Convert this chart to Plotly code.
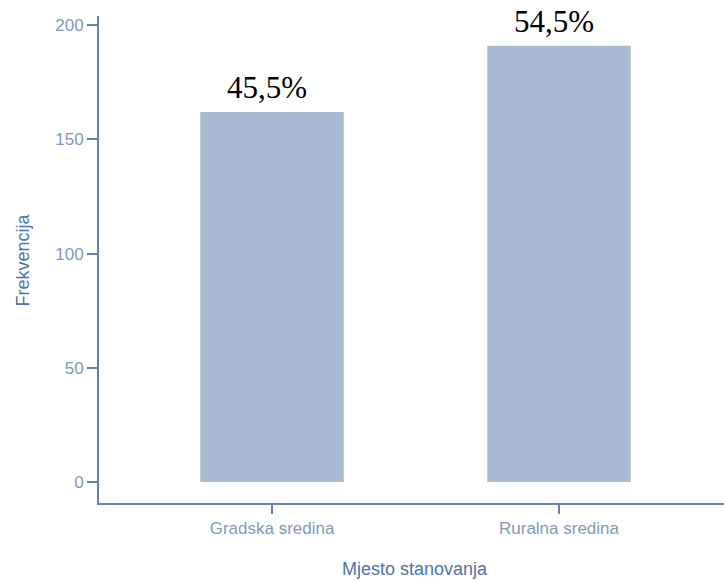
import plotly.graph_objects as go

categories = ["Gradska sredina", "Ruralna sredina"]
frequencies = [162, 191]
percent_labels = ["45,5%", "54,5%"]
y_ticks = [0, 50, 100, 150, 200]

W, H = 724, 580
L, R, T, B = 99, 0, 16, 77
axis_col = "#6283ba"
tick_col = "#7f98c0"
title_col = "#4f72aa"
bar_col = "#a9bbd4"

fig = go.Figure()
fig.add_trace(go.Bar(
    x=categories, y=frequencies, width=0.5,
    marker=dict(color=bar_col, line=dict(width=0)),
    hoverinfo="skip",
))

for c, v, t in zip(categories, frequencies, percent_labels):
    fig.add_annotation(
        x=c, y=v, text=t, showarrow=False, yanchor="bottom",
        yshift=5, xshift=-5,
        font=dict(family="Liberation Serif, Times New Roman, serif", size=31, color="black"),
    )

pw = W - L - R
ph = H - T - B
fig.add_annotation(
    xref="paper", yref="paper", x=(22 - L) / pw, y=(H - B - 260.5) / ph,
    text="Frekvencija", textangle=-90, showarrow=False,
    font=dict(family="Liberation Sans, Arial, sans-serif", size=18, color=title_col),
    xanchor="center", yanchor="middle",
)
fig.add_annotation(
    xref="paper", yref="paper", x=(414.5 - L) / pw, y=-(569 - (H - B)) / ph,
    text="Mjesto stanovanja", showarrow=False,
    font=dict(family="Liberation Sans, Arial, sans-serif", size=18, color=title_col),
    xanchor="center", yanchor="middle",
)

fig.update_layout(
    width=W, height=H,
    margin=dict(l=L, r=R, t=T, b=B, pad=0),
    paper_bgcolor="white", plot_bgcolor="white",
    showlegend=False,
    font=dict(family="Liberation Sans, Arial, sans-serif", size=17, color=tick_col),
    xaxis=dict(
        range=[-0.603, 1.575], showgrid=False, zeroline=False,
        showline=True, linecolor=axis_col, linewidth=2,
        ticks="outside", ticklen=9, tickwidth=2, tickcolor=axis_col,
        tickfont=dict(size=17, color=tick_col),
    ),
    yaxis=dict(
        range=[-9.2, 204], showgrid=False, zeroline=False,
        showline=True, linecolor=axis_col, linewidth=2,
        ticks="outside", ticklen=10, tickwidth=2, tickcolor=axis_col,
        tickvals=y_ticks, tickfont=dict(size=17, color=tick_col),
    ),
)

fig.write_html(
    "out.html",
    config={"displayModeBar": False},
    post_script="document.body.style.margin='0';document.body.style.padding='0';",
)
